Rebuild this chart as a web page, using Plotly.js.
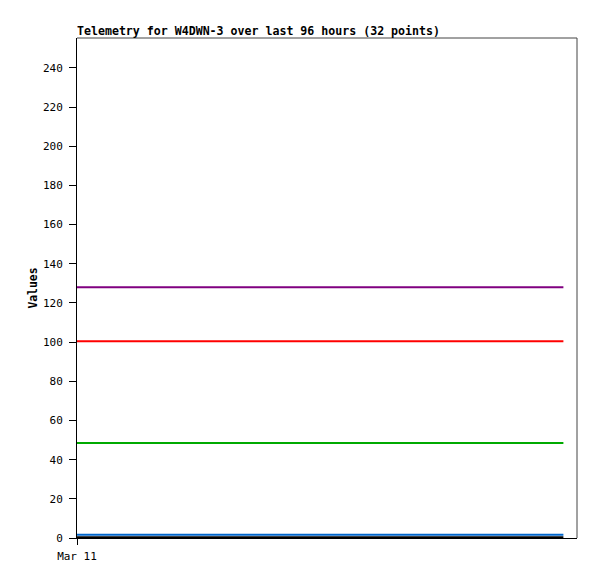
<!DOCTYPE html>
<html>
<head>
<meta charset="utf-8">
<script src="https://cdn.plot.ly/plotly-3.0.1.min.js"></script>
<style>html,body{margin:0;padding:0;background:#fff;}#chart{width:597px;height:579px;}</style>
</head>
<body>
<div id="chart"></div>
<script>
// Time stamps: 32 points, every 3 hours from Mar 11 00:00
var times = [
"2024-03-11 00:00","2024-03-11 03:00","2024-03-11 06:00","2024-03-11 09:00",
"2024-03-11 12:00","2024-03-11 15:00","2024-03-11 18:00","2024-03-11 21:00",
"2024-03-12 00:00","2024-03-12 03:00","2024-03-12 06:00","2024-03-12 09:00",
"2024-03-12 12:00","2024-03-12 15:00","2024-03-12 18:00","2024-03-12 21:00",
"2024-03-13 00:00","2024-03-13 03:00","2024-03-13 06:00","2024-03-13 09:00",
"2024-03-13 12:00","2024-03-13 15:00","2024-03-13 18:00","2024-03-13 21:00",
"2024-03-14 00:00","2024-03-14 03:00","2024-03-14 06:00","2024-03-14 09:00",
"2024-03-14 12:00","2024-03-14 15:00","2024-03-14 18:00","2024-03-14 21:00"
];
var purpleVals = [128,128,128,128,128,128,128,128,128,128,128,128,128,128,128,128,128,128,128,128,128,128,128,128,128,128,128,128,128,128,128,128];
var redVals = [100.5,100.5,100.5,100.5,100.5,100.5,100.5,100.5,100.5,100.5,100.5,100.5,100.5,100.5,100.5,100.5,100.5,100.5,100.5,100.5,100.5,100.5,100.5,100.5,100.5,100.5,100.5,100.5,100.5,100.5,100.5,100.5];
var greenVals = [48.5,48.5,48.5,48.5,48.5,48.5,48.5,48.5,48.5,48.5,48.5,48.5,48.5,48.5,48.5,48.5,48.5,48.5,48.5,48.5,48.5,48.5,48.5,48.5,48.5,48.5,48.5,48.5,48.5,48.5,48.5,48.5];
var blueVals = [1.7,1.7,1.7,1.7,1.7,1.7,1.7,1.7,1.7,1.7,1.7,1.7,1.7,1.7,1.7,1.7,1.7,1.7,1.7,1.7,1.7,1.7,1.7,1.7,1.7,1.7,1.7,1.7,1.7,1.7,1.7,1.7];
var blackVals = [0.4,0.4,0.4,0.4,0.4,0.4,0.4,0.4,0.4,0.4,0.4,0.4,0.4,0.4,0.4,0.4,0.4,0.4,0.4,0.4,0.4,0.4,0.4,0.4,0.4,0.4,0.4,0.4,0.4,0.4,0.4,0.4];
var xTickVals = ["2024-03-11 00:00"];
var xTickText = ["Mar 11"];
var yTickVals = [0,20,40,60,80,100,120,140,160,180,200,220,240];
var titleText = "Telemetry for W4DWN-3 over last 96 hours (32 points)";

var font = "DejaVu Sans Mono, monospace";
function tr(y, c){ return {x: times, y: y, type: 'scatter', mode: 'lines', line: {color: c, width: 2}, hoverinfo: 'skip'}; }
var data = [
  tr(blackVals, '#000000'),
  tr(blueVals, '#0066cc'),
  tr(greenVals, '#00aa00'),
  tr(redVals, '#ff0000'),
  tr(purpleVals, '#800080')
];
var layout = {
  width: 597, height: 579,
  margin: {l: 77, r: 20, t: 38, b: 41},
  paper_bgcolor: '#ffffff', plot_bgcolor: '#ffffff',
  showlegend: false,
  font: {family: font, size: 11, color: '#000'},
  title: {text: '<b>' + titleText + '</b>', x: 77/597, xanchor: 'left', xref: 'container', y: 1 - 31/579, yanchor: 'middle', yref: 'container', font: {family: font, size: 11.6, color: '#000'}},
  xaxis: {
    type: 'date', range: ["2024-03-11 00:00", "2024-03-14 23:36"],
    tickvals: xTickVals, ticktext: xTickText, tickmode: 'array',
    showgrid: false, zeroline: false, showline: true, linecolor: '#000', linewidth: 1,
    ticks: 'outside', ticklen: 6, tickcolor: '#000', tickfont: {family: font, size: 11},
    ticklabelstandoff: 2
  },
  yaxis: {
    range: [0, 255.3], tickvals: yTickVals, tickmode: 'array',
    showgrid: false, zeroline: false, showline: true, linecolor: '#000', linewidth: 1,
    ticks: 'outside', ticklen: 7, tickcolor: '#000', tickfont: {family: font, size: 11},
    ticklabelstandoff: 4,
    title: {text: '<b>Values</b>', font: {family: font, size: 11.4}, standoff: 2}
  },
  shapes: [
    {type: 'line', xref: 'paper', yref: 'paper', x0: 0, x1: 1, y0: 1, y1: 1, line: {color: '#444', width: 1}},
    {type: 'line', xref: 'paper', yref: 'paper', x0: 1, x1: 1, y0: 0, y1: 1, line: {color: '#444', width: 1}}
  ]
};
Plotly.newPlot('chart', data, layout, {staticPlot: true, displayModeBar: false});
</script>
</body>
</html>
